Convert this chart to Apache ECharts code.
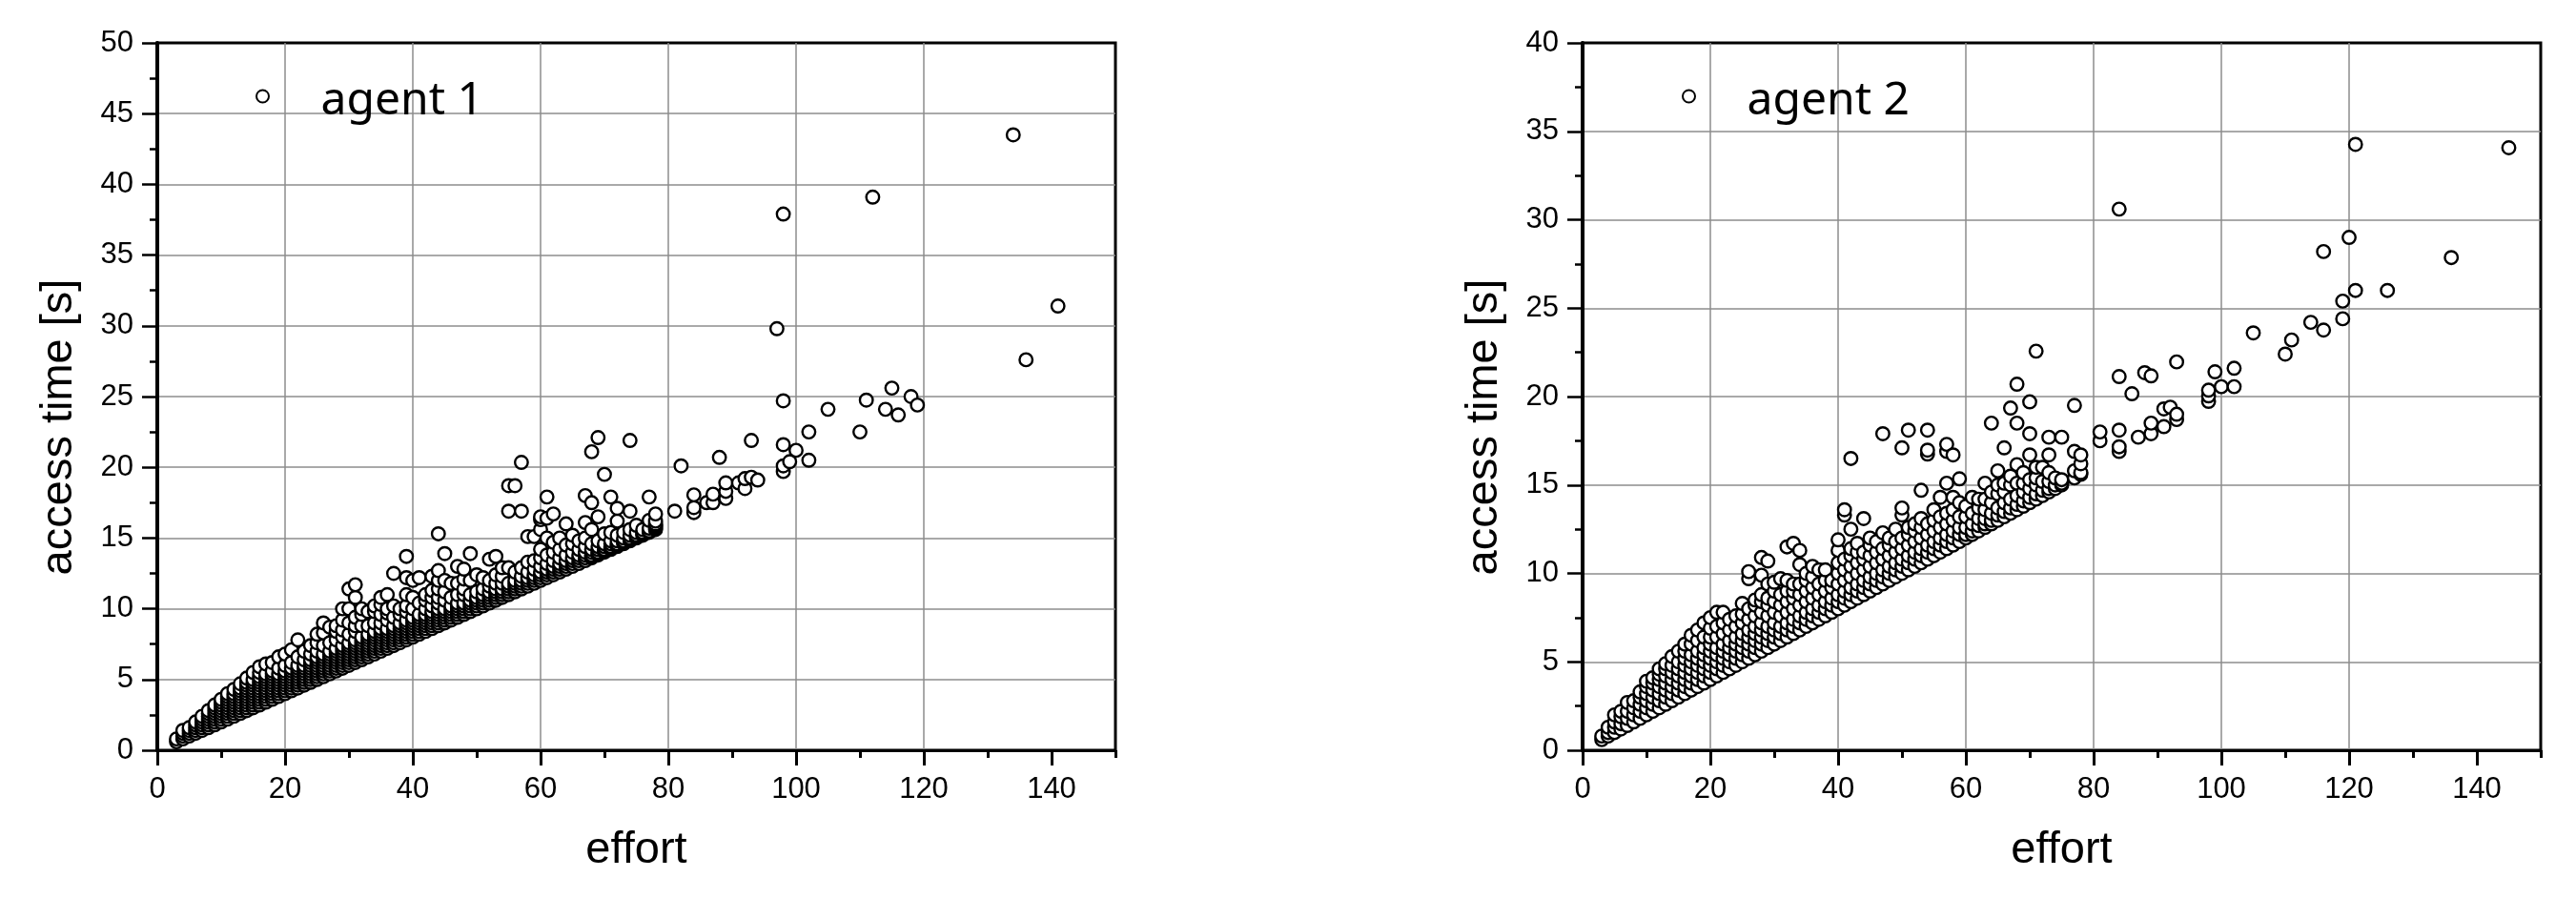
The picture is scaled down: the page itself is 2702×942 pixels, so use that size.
<!DOCTYPE html>
<html><head><meta charset="utf-8">
<style>html,body{margin:0;padding:0;background:#fff}#c{width:2702px;height:942px}</style>
<script src="https://cdn.jsdelivr.net/npm/echarts@6/dist/echarts.min.js"></script>
</head><body><div id="c"></div>
<script>
const xTitle = 'effort';
const yTitle = 'access time [s]';
const agentNames = ['agent 1', 'agent 2'];
const xLabelTicks = [0,20,40,60,80,100,120,140];

// [effort, [access times]]
const agent1Columns = [
[3,[.6,.8]],
[4,[.8,1,1.2,1.4]],
[5,[1,1.2,1.4,1.6]],
[6,[1.2,1.4,1.6,1.8,2]],
[7,[1.4,1.6,1.8,2,2.2,2.4]],
[8,[1.6,1.8,2,2.2,2.4,2.6,2.8]],
[9,[1.8,2,2.2,2.4,2.6,2.8,3,3.2]],
[10,[2,2.2,2.4,2.6,2.8,3,3.2,3.4,3.6]],
[11,[2.2,2.4,2.6,2.8,3,3.2,3.4,3.6,3.8,4]],
[12,[2.4,2.6,2.8,3,3.2,3.4,3.6,3.8,4,4.3]],
[13,[2.6,2.8,3,3.2,3.4,3.6,3.8,4,4.2,4.4,4.7]],
[14,[2.8,3,3.2,3.4,3.6,3.8,4,4.2,4.4,4.6,4.8,5.1]],
[15,[3,3.2,3.4,3.6,3.8,4,4.2,4.4,4.6,4.8,5,5.5]],
[16,[3.2,3.4,3.6,3.8,4,4.2,4.4,4.6,4.8,5,5.2,5.5,5.9]],
[17,[3.4,3.6,3.8,4,4.2,4.4,4.6,4.8,5,5.2,5.4,6.1]],
[18,[3.6,3.8,4,4.2,4.4,4.6,4.8,5,5.2,5.4,5.6,6.2]],
[19,[3.8,4,4.2,4.4,4.6,4.8,5,5.2,5.4,5.8,6.6]],
[20,[4,4.2,4.4,4.6,4.8,5,5.2,5.4,5.6,6,6.8]],
[21,[4.2,4.4,4.6,4.8,5,5.2,5.4,5.6,5.8,6.2,7.1]],
[22,[4.4,4.6,4.8,5,5.2,5.4,5.6,5.8,6,6.6,7.8]],
[23,[4.6,4.8,5,5.2,5.4,5.6,5.8,6,6.4,7]],
[24,[4.8,5,5.2,5.4,5.6,5.8,6,6.2,6.4,6.8,7.4]],
[25,[5,5.2,5.4,5.6,5.8,6,6.2,6.4,6.6,7,7.6,8.2]],
[26,[5.2,5.4,5.6,5.8,6,6.2,6.4,6.6,6.8,7.4,8.3,9]],
[27,[5.4,5.6,5.8,6,6.2,6.4,6.6,6.8,7,7.6,8.7]],
[28,[5.6,5.8,6,6.2,6.4,6.6,6.8,7,7.2,7.8,8.4,8.8]],
[29,[5.8,6,6.2,6.4,6.6,6.8,7,7.2,7.4,8,8.5,9.2,10]],
[30,[6,6.2,6.4,6.6,6.8,7,7.2,7.4,7.6,8.2,9,10,11.4]],
[31,[6.2,6.4,6.6,6.8,7,7.2,7.4,7.6,7.8,8.4,8.8,9.4,10.8,11.7]],
[32,[6.4,6.6,6.8,7,7.2,7.4,7.6,7.8,8,8.8,9.6,10]],
[33,[6.6,6.8,7,7.2,7.4,7.6,7.8,8,8.2,8.8,9.8]],
[34,[6.8,7,7.2,7.4,7.6,7.8,8,8.2,8.4,9,9.8,10.2]],
[35,[7,7.2,7.4,7.6,7.8,8,8.2,8.4,8.6,9,9.6,10.3,10.8]],
[36,[7.2,7.4,7.6,7.8,8,8.2,8.4,8.6,9.2,9.7,10,11]],
[37,[7.4,7.6,7.8,8,8.2,8.4,8.6,8.8,9.4,10.2,12.5]],
[38,[7.6,7.8,8,8.2,8.4,8.6,8.8,9,9.6,10]],
[39,[7.8,8,8.2,8.4,8.6,8.8,9,9.2,9.8,10.2,11,12.2,13.7]],
[40,[8,8.2,8.4,8.6,8.8,9,9.2,9.4,10,10.8,12]],
[41,[8.2,8.4,8.6,8.8,9,9.2,9.4,9.6,10.4,12.2]],
[42,[8.4,8.6,8.8,9,9.2,9.4,9.6,10,10.6,11]],
[43,[8.6,8.8,9,9.2,9.4,9.6,9.8,10.2,10.8,11.3,12.3]],
[44,[8.8,9,9.2,9.4,9.6,9.8,10,10.4,10.8,11.4,12,12.7,15.3]],
[45,[9,9.2,9.4,9.6,9.8,10,10.6,11.2,12,13.9]],
[46,[9.2,9.4,9.6,9.8,10,10.2,10.8,11.8]],
[47,[9.4,9.6,9.8,10,10.2,10.4,11,11.8,13]],
[48,[9.6,9.8,10,10.2,10.4,11,11.4,12.1,12.8]],
[49,[9.8,10,10.2,10.4,10.6,11,12,13.9]],
[50,[10,10.2,10.4,10.6,10.8,11.2,12.4]],
[51,[10.2,10.4,10.6,10.8,11,11.4,12.2]],
[52,[10.4,10.6,10.8,11,11.2,11.6,12,13.5]],
[53,[10.6,10.8,11,11.2,11.4,11.8,12.4,13.7]],
[54,[10.8,11,11.2,11.4,11.8,12.3,12.9]],
[55,[11,11.2,11.4,11.6,11.8,12.9,16.9,18.7]],
[56,[11.2,11.4,11.6,11.8,12,12.6,18.7]],
[57,[11.4,11.6,11.8,12,12.3,12.9,16.9,20.35]],
[58,[11.6,11.8,12,12.2,12.6,13.3,15.1]],
[59,[11.8,12,12.2,12.4,12.8,13.4,15.1]],
[60,[12,12.2,12.4,12.6,13,13.6,14.2,15.6,16.3,16.5]],
[61,[12.2,12.4,12.6,12.8,13.2,13.8,15,16.4,17.9]],
[62,[12.4,12.6,12.8,13,13.4,14,14.7,16.7]],
[63,[12.6,12.8,13,13.2,13.6,14.2,15]],
[64,[12.8,13,13.2,13.4,13.8,14.5,16]],
[65,[13,13.2,13.4,13.6,14,14.6,15.2]],
[66,[13.2,13.4,13.6,13.8,14.2,14.8]],
[67,[13.4,13.6,13.8,14,14.4,15,16.1,18]],
[68,[13.6,13.7,13.8,14,14.2,14.6,15.6,17.5,21.1]],
[69,[13.8,13.9,14,14.2,14.4,14.8,16.5,22.1]],
[70,[14,14.1,14.2,14.4,14.6,15.3,19.5]],
[71,[14.2,14.3,14.4,14.6,14.8,15.4,17.9]],
[72,[14.4,14.5,14.6,14.8,15.2,16.2,17.1]],
[73,[14.6,14.7,14.8,15,15.4]],
[74,[14.8,14.9,15,15.2,15.6,16.9,21.9]],
[75,[15,15.1,15.2,15.4,15.9]],
[76,[15.2,15.3,15.4,15.6]],
[77,[15.4,15.5,15.7,16.25,17.9]],
[78,[15.6,15.7,15.8,15.9,16,16.2,16.7]],
[81,[16.9]],
[82,[20.1]],
[84,[16.8,17.15,18.05]],
[86,[17.5]],
[87,[17.5,18.1]],
[88,[20.7]],
[89,[17.8,18.3,18.9]],
[91,[18.9]],
[92,[18.5,19.2]],
[93,[19.3,21.9]],
[94,[19.1]],
[97,[29.8]],
[98,[19.7,20.1,21.6,24.7,37.9]],
[99,[20.4]],
[100,[21.2]],
[102,[20.5,22.5]],
[105,[24.1]],
[110,[22.5]],
[111,[24.75]],
[112,[39.1]],
[114,[24.1]],
[115,[25.6]],
[116,[23.7]],
[118,[25]],
[119,[24.4]],
[134,[43.5]],
[136,[27.6]],
[141,[31.4]]
];

const agent2Columns = [
[3,[.6,.8]],
[4,[.8,1,1.3]],
[5,[1,1.3,1.6,2]],
[6,[1.2,1.5,1.9,2.2]],
[7,[1.4,1.8,2.2,2.7]],
[8,[1.6,2,2.4,2.8]],
[9,[1.8,2.2,2.6,3,3.3]],
[10,[2,2.4,2.8,3.2,3.6,3.9]],
[11,[2.2,2.6,3,3.4,3.8,4.1]],
[12,[2.4,2.8,3.2,3.6,4,4.3,4.6]],
[13,[2.6,3,3.4,3.8,4.2,4.6,4.9]],
[14,[2.8,3.2,3.6,4,4.4,4.8,5.3]],
[15,[3,3.4,3.8,4.2,4.6,5,5.6]],
[16,[3.2,3.6,4,4.4,4.8,5.2,5.6,6]],
[17,[3.4,3.8,4.2,4.6,5,5.4,6,6.5]],
[18,[3.6,4,4.4,4.8,5.2,5.6,6.2,6.8]],
[19,[3.8,4.2,4.6,5,5.4,5.8,6.4,7.2]],
[20,[4,4.4,4.8,5.2,5.6,6,6.4,6.9,7.5]],
[21,[4.2,4.6,5,5.4,5.8,6.4,7,7.8]],
[22,[4.4,4.8,5.2,5.6,6,6.6,7.2,7.8]],
[23,[4.6,5,5.4,5.8,6.2,6.8,7.4]],
[24,[4.8,5.2,5.6,6,6.4,7,7.6]],
[25,[5,5.4,5.8,6.2,6.6,7.2,7.7,8.3]],
[26,[5.2,5.6,6,6.4,6.8,7.4,8,9.7,10.1]],
[27,[5.4,5.8,6.2,6.6,7,7.6,8.2,8.5]],
[28,[5.6,6,6.4,6.8,7.2,7.8,8.4,8.8,9.9,10.9]],
[29,[5.8,6.2,6.6,7,7.6,8.2,8.6,9.4,10.7]],
[30,[6,6.4,6.8,7.2,7.8,8.4,9,9.5]],
[31,[6.2,6.6,7,7.6,8.2,8.8,9.7]],
[32,[6.4,6.8,7.2,7.8,8.4,9,9.6,11.5]],
[33,[6.6,7,7.4,8,8.6,9,9.4,11.7]],
[34,[6.8,7.2,7.6,8.2,8.8,9.4,10.5,11.3]],
[35,[7,7.4,7.8,8.4,9,9.6,10]],
[36,[7.2,7.6,8,8.6,9.2,9.8,10.4]],
[37,[7.4,7.8,8.2,8.8,9.4,10.2]],
[38,[7.6,8,8.4,9,9.6,10.2]],
[39,[7.8,8.2,8.6,9.2,9.6]],
[40,[8,8.4,8.8,9.4,10,10.6,11.3,11.9]],
[41,[8.2,8.6,9,9.6,10.2,10.8,13.3,13.6]],
[42,[8.4,8.8,9.2,9.8,10.4,11,11.4,12.5,16.5]],
[43,[8.6,9,9.4,10,10.6,11.2,11.7]],
[44,[8.8,9.2,9.6,10.2,10.8,11.2,13.1]],
[45,[9,9.4,9.8,10.4,11,11.6,12]],
[46,[9.2,9.6,10,10.6,11.2,11.8]],
[47,[9.4,9.8,10.2,10.8,11.4,12.3,17.9]],
[48,[9.6,10,10.4,11,11.6,12]],
[49,[9.8,10.2,10.6,11.2,11.8,12.5]],
[50,[10,10.4,10.8,11.4,12,13.3,13.7,17.1]],
[51,[10.2,10.6,11,11.6,12.2,12.6,18.1]],
[52,[10.4,10.8,11.2,11.8,12.4,12.8]],
[53,[10.6,11,11.4,12,12.6,13.1,14.7]],
[54,[10.8,11.2,11.6,12.2,12.8,16.75,16.97,18.1]],
[55,[11,11.4,11.8,12.4,13,13.6]],
[56,[11.2,11.6,12,12.6,13.2,14.3]],
[57,[11.4,11.8,12.2,12.8,13.4,15.1,16.9,17.3]],
[58,[11.6,12,12.4,13,13.6,14.3,16.7]],
[59,[11.8,12.2,12.6,13.2,14,15.35]],
[60,[12,12.2,12.6,13.2,13.8]],
[61,[12.2,12.4,12.8,13.4,14.3]],
[62,[12.4,12.7,13.1,13.7,14.2]],
[63,[12.6,12.8,13.1,13.6,14.2,15.1]],
[64,[12.8,13,13.4,14,14.6,18.5]],
[65,[13,13.3,13.7,14.5,15,15.8]],
[66,[13.2,13.5,14,14.6,15.1,17.1]],
[67,[13.4,13.7,14.2,15,15.5,19.35]],
[68,[13.6,13.9,14.4,15.1,16.15,18.5,20.7]],
[69,[13.8,14.1,14.6,15.1,15.7]],
[70,[14,14.3,14.8,15.3,16.7,17.9,19.7]],
[71,[14.2,14.5,15,15.4,16,22.57]],
[72,[14.4,14.7,15.2,16]],
[73,[14.6,14.8,15.2,15.7,16.7,17.7]],
[74,[14.8,15,15.4]],
[75,[15,15.1,15.3,17.7]],
[77,[15.4,15.8,16.9,19.5]],
[78,[15.6,15.7,16.2,16.7]],
[81,[17.5,18]],
[84,[16.9,17.16,18.1,21.13,30.6]],
[86,[20.16]],
[87,[17.7]],
[88,[21.35]],
[89,[17.9,18.5,21.17]],
[91,[18.3,19.3]],
[92,[19.4]],
[93,[18.7,19,21.96]],
[98,[19.73,20.04,20.36]],
[99,[21.4]],
[100,[20.56]],
[102,[20.56,21.6]],
[105,[23.6]],
[110,[22.4]],
[111,[23.2]],
[114,[24.2]],
[116,[23.76,28.2]],
[119,[24.4,25.4]],
[120,[29]],
[121,[26,34.26]],
[126,[26]],
[136,[27.86]],
[145,[34.07]]
];

const toPoints = cols => cols.flatMap(([x, ys]) => ys.map(y => [x, y]));

const black = '#000', gridGrey = '#8c8c8c';
const fontFamily = '"Liberation Sans", Arial, sans-serif';
const grids = [
  {left:165, top:45, width:1005, height:742},
  {left:1660, top:45, width:1005, height:742}
];
const yMax = [50, 40];

function xAxis(i){return {
  gridIndex:i, type:'value', min:0, max:150, interval:20,
  name:xTitle, nameLocation:'middle', nameGap:82,
  nameTextStyle:{fontFamily, fontSize:47, color:black},
  axisLine:{onZero:false, lineStyle:{color:black, width:3}},
  axisTick:{show:true, length:16, customValues:xLabelTicks, lineStyle:{color:black, width:3}},
  minorTick:{show:false},
  axisLabel:{fontFamily, fontSize:31, color:black, margin:26, customValues:xLabelTicks},
  splitLine:{show:true, showMinLine:false, showMaxLine:false, lineStyle:{color:gridGrey, width:1.5}},
  minorSplitLine:{show:false}
};}
function xMinorAxis(i){return {
  gridIndex:i, type:'value', min:0, max:150, interval:10, position:'bottom',
  axisLine:{show:false, onZero:false},
  axisTick:{show:true, length:8, lineStyle:{color:black, width:3}},
  axisLabel:{show:false},
  splitLine:{show:false}
};}
function yAxis(i){return {
  gridIndex:i, type:'value', min:0, max:yMax[i], interval:5,
  name:yTitle, nameLocation:'middle', nameGap:79,
  nameTextStyle:{fontFamily, fontSize:47, color:black, padding:[0,64,0,0]},
  axisLine:{onZero:false, lineStyle:{color:black, width:4}},
  axisTick:{show:true, length:16, lineStyle:{color:black, width:2.5}},
  minorTick:{show:true, splitNumber:2, length:8, lineStyle:{color:black, width:2.5}},
  axisLabel:{fontFamily, fontSize:31, color:black, margin:25},
  splitLine:{show:true, showMinLine:false, showMaxLine:false, lineStyle:{color:gridGrey, width:1.5}},
  minorSplitLine:{show:false}
};}
function legend(i){return {
  data:[agentNames[i]], orient:'horizontal', padding:0,
  left:(i===0?268:1764), top:82, itemWidth:112, itemHeight:13,
  icon:'circle', itemGap:0,
  formatter:'{t|{name}}',
  textStyle:{color:black, rich:{t:{fontFamily:'"Noto Sans", sans-serif', fontSize:48, color:black, padding:[10,0,0,0]}}}
};}
function series(i,cols){return {
  name:agentNames[i], type:'scatter', xAxisIndex:i, yAxisIndex:i,
  data:toPoints(cols), symbol:'circle', symbolSize:13.5,
  itemStyle:{color:'#fff', borderColor:black, borderWidth:2.4, opacity:1},
  emphasis:{disabled:true}, silent:true, animation:false
};}

const chart = echarts.init(document.getElementById('c'), null, {renderer:'canvas'});
chart.setOption({
  backgroundColor:'#fff', animation:false,
  grid:grids.map(g=>({...g, show:true, backgroundColor:'transparent', borderColor:black, borderWidth:3, containLabel:false})),
  xAxis:[xAxis(0), xAxis(1), xMinorAxis(0), xMinorAxis(1)],
  yAxis:[yAxis(0), yAxis(1)],
  legend:[legend(0), legend(1)],
  series:[series(0,agent1Columns), series(1,agent2Columns)]
});
</script></body></html>
